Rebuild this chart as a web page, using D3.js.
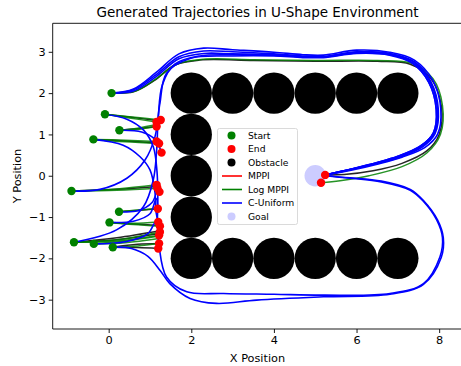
<!DOCTYPE html>
<html><head><meta charset="utf-8">
<script src="https://cdn.jsdelivr.net/npm/d3@7"></script>
<style>body{margin:0;background:#fff}svg{display:block;font-family:"DejaVu Sans",sans-serif}</style>
</head><body><svg id="c" width="461" height="366"></svg>
<script>
const xTicks=[0,2,4,6,8];
const yTicks=[-3,-2,-1,0,1,2,3];
const obstacles=[[2,2],[3,2],[4,2],[5,2],[6,2],[7,2],[2,1],[2,0],[2,-1],[2,-2],[3,-2],[4,-2],[5,-2],[6,-2],[7,-2]];
const obstacleRadius=0.5;
const goal=[5,0];
const goalRadius=0.26;
const starts=[[0.07,2.0],[-0.09,1.49],[0.26,1.10],[-0.37,0.88],[-0.90,-0.37],[0.25,-0.87],[0.02,-1.13],[-0.84,-1.61],[-0.36,-1.65],[0.10,-1.73]];
const ends=[[1.26,1.35],[1.16,1.30],[1.16,1.19],[1.16,0.83],[1.22,0.78],[1.28,0.56],[1.16,-0.22],[1.18,-0.30],[1.23,-0.39],[1.19,-0.80],[1.20,-1.12],[1.24,-1.22],[1.24,-1.36],[1.22,-1.44],[1.22,-1.64],[1.20,-1.76],[5.24,0.02],[5.14,-0.17]];

const mppi=[
 [[0.07,2.0],[0.6,2.03],[1.1,2.3],[1.6,2.68],[2.2,2.8],[3.5,2.79],[5,2.77],[6.5,2.77],[7.3,2.7],[7.8,2.35],[8.05,1.7],[8.0,1.0],[7.7,0.6],[7.1,0.3],[6.4,0.12],[5.7,0.03],[5.24,0.02]],
 [[-0.09,1.49],[0.5,1.42],[1.22,1.33]],
 [[0.26,1.10],[0.7,1.14],[1.16,1.19]],
 [[-0.37,0.88],[0.4,0.84],[1.2,0.79]],
 [[-0.90,-0.37],[0.2,-0.33],[1.17,-0.26]],
 [[0.25,-0.87],[0.7,-0.84],[1.19,-0.80]],
 [[0.02,-1.13],[0.6,-1.17],[1.22,-1.20]],
 [[-0.84,-1.61],[0.2,-1.5],[1.24,-1.33]],
 [[-0.84,-1.61],[0.2,-1.55],[1.22,-1.40]],
 [[0.10,-1.73],[0.7,-1.66],[1.22,-1.64]],
 [[0.10,-1.73],[0.7,-1.74],[1.20,-1.76]]
];
const logMppi=[
 [[0.07,2.0],[0.65,2.05],[1.15,2.35],[1.65,2.7],[2.3,2.82],[3.5,2.81],[5,2.79],[6.5,2.79],[7.35,2.72],[7.85,2.35],[8.08,1.7],[8.03,1.0],[7.7,0.55],[7.1,0.22],[6.3,0.0],[5.6,-0.12],[5.14,-0.17]],
 [[-0.09,1.49],[0.5,1.43],[1.26,1.35]],
 [[-0.09,1.49],[0.5,1.4],[1.16,1.30]],
 [[0.26,1.10],[0.7,1.12],[1.16,1.19]],
 [[0.26,1.10],[0.7,1.15],[1.2,1.25]],
 [[-0.37,0.88],[0.4,0.86],[1.16,0.83]],
 [[-0.37,0.88],[0.4,0.82],[1.22,0.78]],
 [[-0.90,-0.37],[0.2,-0.32],[1.16,-0.22]],
 [[-0.90,-0.37],[0.2,-0.35],[1.18,-0.30]],
 [[0.25,-0.87],[0.7,-0.83],[1.19,-0.80]],
 [[0.02,-1.13],[0.6,-1.15],[1.20,-1.12]],
 [[0.02,-1.13],[0.6,-1.18],[1.24,-1.22]],
 [[-0.84,-1.61],[0.2,-1.55],[1.24,-1.36]],
 [[-0.84,-1.61],[0.2,-1.58],[1.22,-1.44]],
 [[-0.36,-1.65],[0.4,-1.58],[1.22,-1.46]],
 [[-0.36,-1.65],[0.4,-1.62],[1.22,-1.52]],
 [[0.10,-1.73],[0.7,-1.7],[1.22,-1.64]]
];
const cUniform=[
 [[0.07,2.0],[0.6,2.1],[1.15,2.5],[1.7,2.95],[2.3,3.09],[3.0,3.05],[4.0,2.99],[4.7,2.93],[5.2,2.92],[6.0,3.04],[6.8,2.99],[7.4,2.8],[7.85,2.3],[8.04,1.6],[7.96,1.0],[7.65,0.68],[7.1,0.45],[6.5,0.28],[5.9,0.14],[5.24,0.02]],
 [[0.07,2.0],[0.6,2.08],[1.15,2.45],[1.7,2.88],[2.3,3.02],[3.0,3.0],[4.0,2.95],[4.7,2.9],[5.2,2.89],[6.0,3.0],[6.8,2.96],[7.4,2.76],[7.8,2.28],[7.98,1.6],[7.9,1.02],[7.6,0.7],[7.05,0.45],[6.5,0.3],[5.9,0.16],[5.24,0.02]],
 [[0.07,2.0],[0.6,2.05],[1.15,2.4],[1.7,2.83],[2.3,2.96],[3.0,2.95],[4.0,2.92],[4.7,2.88],[5.2,2.87],[6.0,2.97],[6.8,2.93],[7.35,2.74],[7.75,2.26],[7.93,1.6],[7.86,1.04],[7.55,0.72],[7.0,0.47],[6.5,0.32],[5.9,0.17],[5.24,0.02]],
 [[-0.90,-0.37],[-0.21,-0.33],[0.44,-0.06],[0.88,0.38],[1.12,0.94],[1.24,1.75],[1.4,2.48],[1.97,2.84],[3.0,2.9],[4.0,2.9],[4.7,2.86],[5.2,2.86],[6.0,2.96],[6.8,2.92],[7.35,2.72],[7.75,2.26],[7.93,1.6],[7.86,1.04],[7.55,0.72],[7.0,0.47],[6.5,0.32],[5.9,0.17],[5.24,0.02]],
 [[-0.84,-1.61],[0.19,-1.31],[0.84,-0.75],[1.08,-0.10],[1.16,0.6],[1.2,1.4],[1.3,2.2],[1.6,2.7],[2.2,2.9],[3.0,2.93],[4.0,2.92],[4.7,2.88],[5.2,2.88],[6.0,2.99],[6.8,2.95],[7.38,2.75],[7.78,2.27],[7.96,1.6],[7.88,1.03],[7.58,0.71],[7.02,0.46],[6.5,0.31],[5.9,0.16],[5.24,0.02]],
 [[-0.09,1.49],[0.44,1.37],[0.84,1.11],[1.08,0.70],[1.17,0.1],[1.19,-0.6],[1.18,-1.2],[1.22,-1.7],[1.40,-2.45],[1.89,-2.81],[2.78,-2.85],[4.0,-2.87],[5.20,-2.89],[6.81,-2.85],[7.62,-2.61],[8.02,-1.96],[8.08,-1.5],[7.94,-1.07],[7.6,-0.6],[7.30,-0.35],[6.6,-0.15],[5.84,-0.06],[5.24,0.0]],
 [[0.10,-1.73],[0.55,-1.76],[0.95,-1.95],[1.25,-2.3],[1.48,-2.61],[1.97,-2.97],[2.61,-3.09],[3.58,-3.01],[5.2,-2.93],[6.81,-2.87],[7.62,-2.63],[8.05,-1.98],[8.1,-1.5],[7.96,-1.07],[7.62,-0.6],[7.30,-0.33],[6.6,-0.13],[5.84,-0.05],[5.24,0.0]],
 [[-0.37,0.88],[0.35,0.74],[0.76,0.46],[1.0,0.14],[1.12,-0.4],[1.15,-0.9],[1.2,-1.12]],
 [[0.26,1.10],[0.8,1.06],[1.12,0.88],[1.28,0.56]],
 [[0.25,-0.87],[0.7,-0.85],[1.05,-0.65],[1.2,-0.3],[1.23,-0.39]],
 [[0.02,-1.13],[0.6,-1.1],[1.0,-0.92],[1.15,-0.55],[1.19,-0.80]],
 [[-0.36,-1.65],[0.4,-1.6],[0.95,-1.4],[1.15,-1.1],[1.24,-1.22]]
];
const legendItems=[
 {label:"Start",type:"dot",color:"green"},
 {label:"End",type:"dot",color:"red"},
 {label:"Obstacle",type:"dot",color:"black"},
 {label:"MPPI",type:"line",color:"red"},
 {label:"Log MPPI",type:"line",color:"green"},
 {label:"C-Uniform",type:"line",color:"blue"},
 {label:"Goal",type:"dot",color:"#ccccff"}
];

const svg=d3.select("#c");
const L=52.7,R=462.3,T=23.3,B=329;
const x=d3.scaleLinear().domain([-1.355,8.56]).range([L,R]);
const y=d3.scaleLinear().domain([-3.71,3.69]).range([B,T]);
const k=x(1)-x(0);

svg.append("defs").append("clipPath").attr("id","clip").append("rect")
 .attr("x",L).attr("y",T).attr("width",R-L).attr("height",B-T);
const g=svg.append("g").attr("clip-path","url(#clip)");

g.selectAll("circle.obs").data(obstacles).join("circle").attr("class","obs")
 .attr("cx",d=>x(d[0])).attr("cy",d=>y(d[1])).attr("r",obstacleRadius*k).attr("fill","black");
g.append("circle").attr("cx",x(goal[0])).attr("cy",y(goal[1])).attr("r",goalRadius*k).attr("fill","#ccccff");

const line=d3.line().x(d=>x(d[0])).y(d=>y(d[1])).curve(d3.curveCatmullRom.alpha(0.5));
function drawSet(data,color,w,op){
 g.append("g").selectAll("path").data(data).join("path")
  .attr("d",line).attr("fill","none").attr("stroke",color).attr("stroke-width",w)
  .attr("stroke-opacity",op).attr("stroke-linecap","round").attr("stroke-linejoin","round");
}
drawSet(mppi,"black",1.5,0.85);
drawSet(logMppi,"green",1.5,0.85);
drawSet(cUniform,"blue",1.6,1);

g.selectAll("circle.st").data(starts).join("circle").attr("class","st")
 .attr("cx",d=>x(d[0])).attr("cy",d=>y(d[1])).attr("r",4.2).attr("fill","green");
g.selectAll("circle.en").data(ends).join("circle").attr("class","en")
 .attr("cx",d=>x(d[0])).attr("cy",d=>y(d[1])).attr("r",4.2).attr("fill","red");

// axes
const xa=svg.append("g").attr("transform",`translate(0,${B})`)
 .call(d3.axisBottom(x).tickValues(xTicks).tickSize(4).tickPadding(3).tickFormat(d=>String(d).replace("-","\u2212")));
const ya=svg.append("g").attr("transform",`translate(${L},0)`)
 .call(d3.axisLeft(y).tickValues(yTicks).tickSize(4).tickPadding(3).tickFormat(d=>String(d).replace("-","\u2212")));
[xa,ya].forEach(a=>{a.select(".domain").remove();a.selectAll("text").attr("font-size",11.3).attr("font-family","DejaVu Sans").attr("fill","black");a.selectAll("line").attr("stroke","black").attr("stroke-width",0.9);});
// spines
svg.append("line").attr("x1",L).attr("x2",R).attr("y1",T).attr("y2",T).attr("stroke","black").attr("stroke-width",0.9);
svg.append("line").attr("x1",L).attr("x2",R).attr("y1",B).attr("y2",B).attr("stroke","black").attr("stroke-width",0.9);
svg.append("line").attr("x1",L).attr("x2",L).attr("y1",T).attr("y2",B).attr("stroke","black").attr("stroke-width",0.9);
svg.append("line").attr("x1",R).attr("x2",R).attr("y1",T).attr("y2",B).attr("stroke","black").attr("stroke-width",0.9);

svg.append("text").attr("x",257.5).attr("y",16.5).attr("text-anchor","middle").attr("font-size",13.5).text("Generated Trajectories in U-Shape Environment");
svg.append("text").attr("x",257.5).attr("y",362).attr("text-anchor","middle").attr("font-size",11.3).text("X Position");
svg.append("text").attr("transform","translate(21,176) rotate(-90)").attr("text-anchor","middle").attr("font-size",11.3).text("Y Position");

// legend
const lg=svg.append("g");
lg.append("rect").attr("x",217.5).attr("y",128.5).attr("width",80).attr("height",96).attr("rx",2)
 .attr("fill","white").attr("fill-opacity",0.8).attr("stroke","#d6d6d6").attr("stroke-width",0.9);
legendItems.forEach((it,i)=>{
 const cy=135.5+i*13.5;
 if(it.type==="dot") lg.append("circle").attr("cx",231.5).attr("cy",cy).attr("r",4).attr("fill",it.color);
 else lg.append("line").attr("x1",222).attr("x2",242).attr("y1",cy).attr("y2",cy).attr("stroke",it.color).attr("stroke-width",1.6);
 lg.append("text").attr("x",248).attr("y",cy+3.3).attr("font-size",9.2).text(it.label);
});
</script></body></html>
